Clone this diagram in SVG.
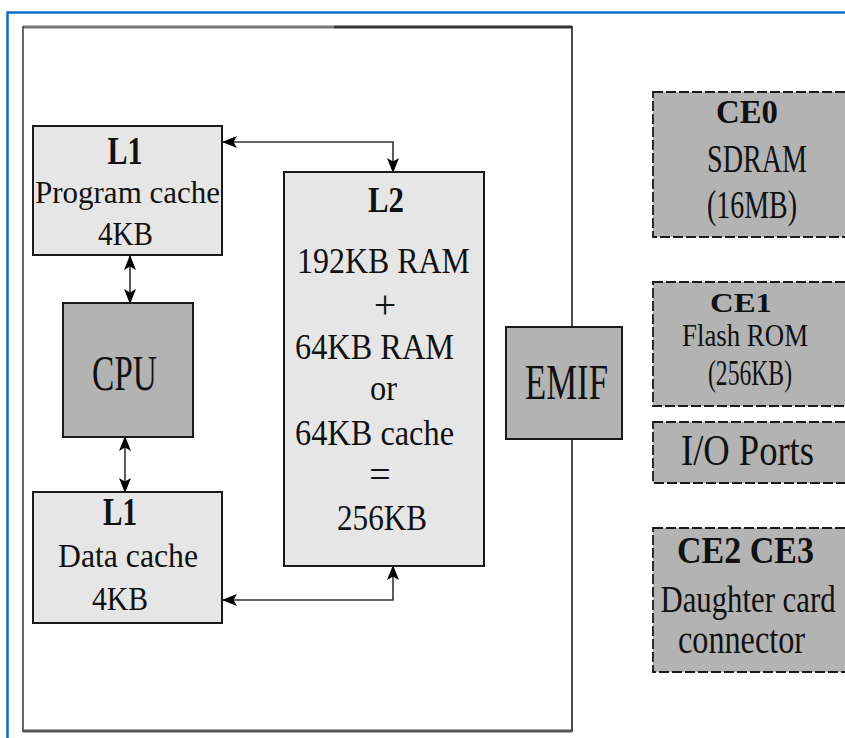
<svg xmlns="http://www.w3.org/2000/svg" width="845" height="738" viewBox="0 0 845 738">
  <style>
    .txt { font-family: "Liberation Serif", "Times New Roman", serif; fill: #111; text-anchor: middle; }
    .b { font-weight: bold; }
    .light { fill: #e6e6e6; stroke: #1a1a1a; stroke-width: 2; }
    .dark { fill: #b3b3b3; stroke: #1a1a1a; stroke-width: 2; }
    .ext { fill: #b3b3b3; stroke: #1a1a1a; stroke-width: 1.8; stroke-dasharray: 10 3; }
    .wire { fill: none; stroke: #333; stroke-width: 1.6; }
  </style>
  <defs>
    <marker id="arrow" markerUnits="userSpaceOnUse" markerWidth="15" markerHeight="12" refX="14" refY="6" orient="auto-start-reverse">
      <path d="M0,0 L15,6 L0,12 L3.5,6 z" fill="#000"/>
    </marker>
  </defs>

  <rect width="845" height="738" fill="#fff"/>

  <!-- page frame -->
  <g id="frame">
    <line x1="7" y1="12.5" x2="845" y2="12.5" stroke="#0a6fc4" stroke-width="2.5"/>
    <line x1="7.5" y1="11.5" x2="7.5" y2="738" stroke="#0a6fc4" stroke-width="2.5"/>
  </g>

  <!-- chip boundary -->
  <g id="chip">
    <line x1="23" y1="27" x2="334" y2="27" stroke="#777" stroke-width="3"/>
    <line x1="334" y1="27" x2="572" y2="27" stroke="#333" stroke-width="3"/>
    <line x1="23" y1="26" x2="23" y2="732" stroke="#444" stroke-width="1.6"/>
    <line x1="572" y1="26" x2="572" y2="732" stroke="#222" stroke-width="1.6"/>
    <line x1="23" y1="731" x2="572" y2="731" stroke="#555" stroke-width="3"/>
  </g>

  <!-- connectors -->
  <g id="connectors">
    <path class="wire" d="M393,172 V142 H223" marker-start="url(#arrow)" marker-end="url(#arrow)"/>
    <path class="wire" d="M130,256 V303" marker-start="url(#arrow)" marker-end="url(#arrow)"/>
    <path class="wire" d="M125,437 V492" marker-start="url(#arrow)" marker-end="url(#arrow)"/>
    <path class="wire" d="M223,600 H393 V566" marker-start="url(#arrow)" marker-end="url(#arrow)"/>
  </g>

  <g id="l1-program">
    <rect class="light" x="33" y="126" width="189" height="129"/>
    <text class="txt b" x="125" y="164" font-size="40" textLength="35" lengthAdjust="spacingAndGlyphs">L1</text>
    <text class="txt" x="127.5" y="203" font-size="31" textLength="185" lengthAdjust="spacingAndGlyphs">Program cache</text>
    <text class="txt" x="125.5" y="245" font-size="34" textLength="55" lengthAdjust="spacingAndGlyphs">4KB</text>
  </g>

  <g id="cpu">
    <rect class="dark" x="63" y="303" width="130" height="134"/>
    <text class="txt" x="124.5" y="390" font-size="50" textLength="65" lengthAdjust="spacingAndGlyphs">CPU</text>
  </g>

  <g id="l1-data">
    <rect class="light" x="33" y="492" width="189" height="131"/>
    <text class="txt b" x="120" y="525" font-size="40" textLength="34" lengthAdjust="spacingAndGlyphs">L1</text>
    <text class="txt" x="128" y="567" font-size="33" textLength="140" lengthAdjust="spacingAndGlyphs">Data cache</text>
    <text class="txt" x="120" y="610" font-size="33" textLength="56" lengthAdjust="spacingAndGlyphs">4KB</text>
  </g>

  <g id="l2">
    <rect class="light" x="284" y="172" width="200" height="394"/>
    <text class="txt b" x="386" y="212" font-size="36" textLength="36" lengthAdjust="spacingAndGlyphs">L2</text>
    <text class="txt" x="383.5" y="273" font-size="36" textLength="173" lengthAdjust="spacingAndGlyphs">192KB RAM</text>
    <text class="txt" x="385" y="318" font-size="40">+</text>
    <text class="txt" x="374.5" y="359" font-size="36" textLength="159" lengthAdjust="spacingAndGlyphs">64KB RAM</text>
    <text class="txt" x="383.5" y="400" font-size="36" textLength="27" lengthAdjust="spacingAndGlyphs">or</text>
    <text class="txt" x="374.5" y="445" font-size="36" textLength="159" lengthAdjust="spacingAndGlyphs">64KB cache</text>
    <text class="txt" x="380" y="487" font-size="38">=</text>
    <text class="txt" x="382" y="530" font-size="36" textLength="90" lengthAdjust="spacingAndGlyphs">256KB</text>
  </g>

  <g id="emif">
    <rect class="dark" x="506" y="327" width="116" height="112"/>
    <text class="txt" x="566.5" y="399" font-size="50" textLength="83" lengthAdjust="spacingAndGlyphs">EMIF</text>
  </g>

  <!-- external memory spaces (boxes run off the right edge) -->
  <g id="ce0">
    <rect class="ext" x="653" y="92" width="196" height="145"/>
    <text class="txt b" x="747" y="123" font-size="34" textLength="62" lengthAdjust="spacingAndGlyphs">CE0</text>
    <text class="txt" x="757" y="172" font-size="39" textLength="100" lengthAdjust="spacingAndGlyphs">SDRAM</text>
    <text class="txt" x="752" y="218" font-size="39" textLength="90" lengthAdjust="spacingAndGlyphs">(16MB)</text>
  </g>

  <g id="ce1">
    <rect class="ext" x="653" y="282" width="196" height="124"/>
    <text class="txt b" x="741" y="312" font-size="28" textLength="62" lengthAdjust="spacingAndGlyphs">CE1</text>
    <text class="txt" x="745" y="346" font-size="32" textLength="126" lengthAdjust="spacingAndGlyphs">Flash ROM</text>
    <text class="txt" x="750" y="385" font-size="35" textLength="84" lengthAdjust="spacingAndGlyphs">(256KB)</text>
  </g>

  <g id="io-ports">
    <rect class="ext" x="653" y="422" width="196" height="61"/>
    <text class="txt" x="747.5" y="465" font-size="45" textLength="133" lengthAdjust="spacingAndGlyphs">I/O Ports</text>
  </g>

  <g id="ce2-ce3">
    <rect class="ext" x="653" y="528" width="196" height="144"/>
    <text class="txt b" x="745.5" y="563" font-size="37" textLength="137" lengthAdjust="spacingAndGlyphs">CE2 CE3</text>
    <text class="txt" transform="translate(748 612) scale(0.81 1)" font-size="38">Daughter card</text>
    <text class="txt" x="741.5" y="653" font-size="39" textLength="127" lengthAdjust="spacingAndGlyphs">connector</text>
  </g>
</svg>
